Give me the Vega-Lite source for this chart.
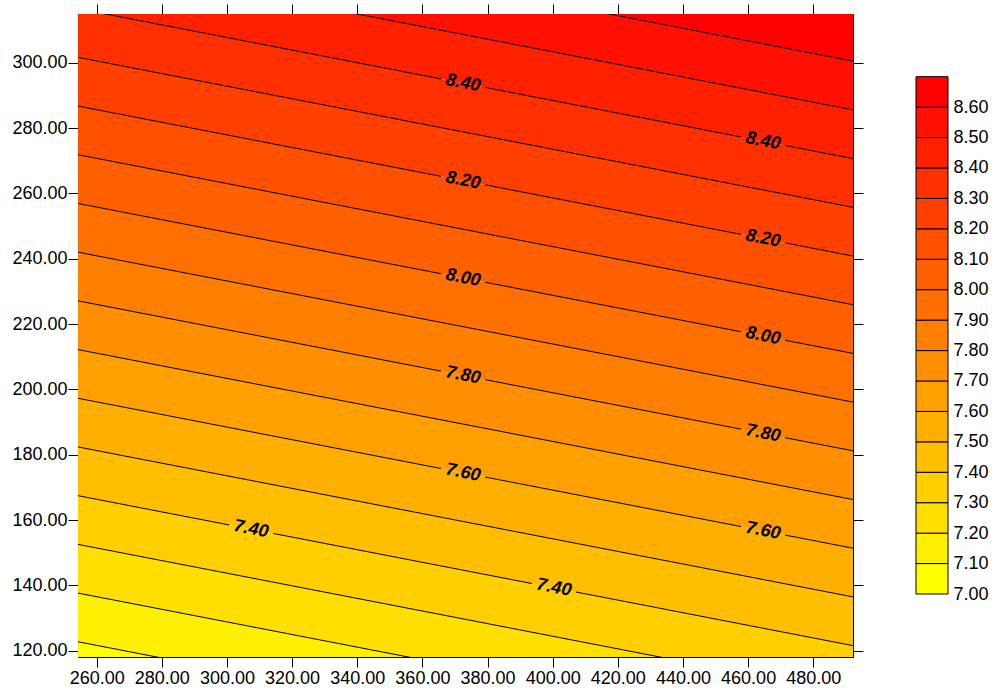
{
  "$schema": "https://vega.github.io/schema/vega-lite/v6.json",
  "padding": {"left": 11, "top": 3, "right": 5, "bottom": 5},
  "background": "#ffffff",
  "config": {
    "font": "Liberation Sans",
    "view": {"stroke": null},
    "concat": {"spacing": 51},
    "axis": {
      "labelFont": "Liberation Sans",
      "labelFontSize": 18,
      "labelColor": "#000000",
      "tickColor": "#000000",
      "tickSize": 10,
      "tickWidth": 1,
      "labelPadding": 1,
      "grid": false,
      "domain": false,
      "title": null
    }
  },
  "datasets": {
    "bands": [
      {"band": "7.0", "x": 254.27, "lo": 107.82, "hi": 122.73},
      {"band": "7.0", "x": 492.2, "lo": 61.92, "hi": 76.83},
      {"band": "7.1", "x": 254.27, "lo": 122.73, "hi": 137.63},
      {"band": "7.1", "x": 492.2, "lo": 76.83, "hi": 91.73},
      {"band": "7.2", "x": 254.27, "lo": 137.63, "hi": 152.54},
      {"band": "7.2", "x": 492.2, "lo": 91.73, "hi": 106.64},
      {"band": "7.3", "x": 254.27, "lo": 152.54, "hi": 167.45},
      {"band": "7.3", "x": 492.2, "lo": 106.64, "hi": 121.55},
      {"band": "7.4", "x": 254.27, "lo": 167.45, "hi": 182.36},
      {"band": "7.4", "x": 492.2, "lo": 121.55, "hi": 136.46},
      {"band": "7.5", "x": 254.27, "lo": 182.36, "hi": 197.27},
      {"band": "7.5", "x": 492.2, "lo": 136.46, "hi": 151.37},
      {"band": "7.6", "x": 254.27, "lo": 197.27, "hi": 212.17},
      {"band": "7.6", "x": 492.2, "lo": 151.37, "hi": 166.27},
      {"band": "7.7", "x": 254.27, "lo": 212.17, "hi": 227.08},
      {"band": "7.7", "x": 492.2, "lo": 166.27, "hi": 181.18},
      {"band": "7.8", "x": 254.27, "lo": 227.08, "hi": 241.99},
      {"band": "7.8", "x": 492.2, "lo": 181.18, "hi": 196.09},
      {"band": "7.9", "x": 254.27, "lo": 241.99, "hi": 256.9},
      {"band": "7.9", "x": 492.2, "lo": 196.09, "hi": 211.0},
      {"band": "8.0", "x": 254.27, "lo": 256.9, "hi": 271.81},
      {"band": "8.0", "x": 492.2, "lo": 211.0, "hi": 225.91},
      {"band": "8.1", "x": 254.27, "lo": 271.81, "hi": 286.71},
      {"band": "8.1", "x": 492.2, "lo": 225.91, "hi": 240.81},
      {"band": "8.2", "x": 254.27, "lo": 286.71, "hi": 301.62},
      {"band": "8.2", "x": 492.2, "lo": 240.81, "hi": 255.72},
      {"band": "8.3", "x": 254.27, "lo": 301.62, "hi": 316.53},
      {"band": "8.3", "x": 492.2, "lo": 255.72, "hi": 270.63},
      {"band": "8.4", "x": 254.27, "lo": 316.53, "hi": 331.44},
      {"band": "8.4", "x": 492.2, "lo": 270.63, "hi": 285.54},
      {"band": "8.5", "x": 254.27, "lo": 331.44, "hi": 346.35},
      {"band": "8.5", "x": 492.2, "lo": 285.54, "hi": 300.45},
      {"band": "8.6", "x": 254.27, "lo": 346.35, "hi": 361.26},
      {"band": "8.6", "x": 492.2, "lo": 300.45, "hi": 315.36}
    ],
    "lines": [
      {"seg": "8.6", "x": 254.27, "y": 346.35},
      {"seg": "8.6", "x": 492.2, "y": 300.45},
      {"seg": "8.5", "x": 254.27, "y": 331.44},
      {"seg": "8.5", "x": 492.2, "y": 285.54},
      {"seg": "8.4a", "x": 254.27, "y": 316.53},
      {"seg": "8.4a", "x": 365.75, "y": 295.02},
      {"seg": "8.4b", "x": 379.25, "y": 292.42},
      {"seg": "8.4b", "x": 457.85, "y": 277.26},
      {"seg": "8.4c", "x": 471.35, "y": 274.65},
      {"seg": "8.4c", "x": 492.2, "y": 270.63},
      {"seg": "8.3", "x": 254.27, "y": 301.62},
      {"seg": "8.3", "x": 492.2, "y": 255.72},
      {"seg": "8.2a", "x": 254.27, "y": 286.71},
      {"seg": "8.2a", "x": 365.75, "y": 265.2},
      {"seg": "8.2b", "x": 379.25, "y": 262.6},
      {"seg": "8.2b", "x": 457.85, "y": 247.44},
      {"seg": "8.2c", "x": 471.35, "y": 244.83},
      {"seg": "8.2c", "x": 492.2, "y": 240.81},
      {"seg": "8.1", "x": 254.27, "y": 271.81},
      {"seg": "8.1", "x": 492.2, "y": 225.91},
      {"seg": "8.0a", "x": 254.27, "y": 256.9},
      {"seg": "8.0a", "x": 365.75, "y": 235.39},
      {"seg": "8.0b", "x": 379.25, "y": 232.79},
      {"seg": "8.0b", "x": 457.85, "y": 217.63},
      {"seg": "8.0c", "x": 471.35, "y": 215.02},
      {"seg": "8.0c", "x": 492.2, "y": 211.0},
      {"seg": "7.9", "x": 254.27, "y": 241.99},
      {"seg": "7.9", "x": 492.2, "y": 196.09},
      {"seg": "7.8a", "x": 254.27, "y": 227.08},
      {"seg": "7.8a", "x": 365.75, "y": 205.57},
      {"seg": "7.8b", "x": 379.25, "y": 202.97},
      {"seg": "7.8b", "x": 457.85, "y": 187.81},
      {"seg": "7.8c", "x": 471.35, "y": 185.2},
      {"seg": "7.8c", "x": 492.2, "y": 181.18},
      {"seg": "7.7", "x": 254.27, "y": 212.17},
      {"seg": "7.7", "x": 492.2, "y": 166.27},
      {"seg": "7.6a", "x": 254.27, "y": 197.27},
      {"seg": "7.6a", "x": 365.75, "y": 175.76},
      {"seg": "7.6b", "x": 379.25, "y": 173.16},
      {"seg": "7.6b", "x": 457.85, "y": 158.0},
      {"seg": "7.6c", "x": 471.35, "y": 155.39},
      {"seg": "7.6c", "x": 492.2, "y": 151.37},
      {"seg": "7.5", "x": 254.27, "y": 182.36},
      {"seg": "7.5", "x": 492.2, "y": 136.46},
      {"seg": "7.4a", "x": 254.27, "y": 167.45},
      {"seg": "7.4a", "x": 300.65, "y": 158.5},
      {"seg": "7.4b", "x": 314.15, "y": 155.9},
      {"seg": "7.4b", "x": 393.65, "y": 140.56},
      {"seg": "7.4c", "x": 407.15, "y": 137.96},
      {"seg": "7.4c", "x": 492.2, "y": 121.55},
      {"seg": "7.3", "x": 254.27, "y": 152.54},
      {"seg": "7.3", "x": 492.2, "y": 106.64},
      {"seg": "7.2", "x": 254.27, "y": 137.63},
      {"seg": "7.2", "x": 492.2, "y": 91.73},
      {"seg": "7.1", "x": 254.27, "y": 122.73},
      {"seg": "7.1", "x": 492.2, "y": 76.83}
    ],
    "labels": [
      {"label": "8.40", "x": 372.5, "y": 293.72},
      {"label": "8.40", "x": 464.6, "y": 275.95},
      {"label": "8.20", "x": 372.5, "y": 263.9},
      {"label": "8.20", "x": 464.6, "y": 246.13},
      {"label": "8.00", "x": 372.5, "y": 234.09},
      {"label": "8.00", "x": 464.6, "y": 216.32},
      {"label": "7.80", "x": 372.5, "y": 204.27},
      {"label": "7.80", "x": 464.6, "y": 186.5},
      {"label": "7.60", "x": 372.5, "y": 174.46},
      {"label": "7.60", "x": 464.6, "y": 156.69},
      {"label": "7.40", "x": 307.4, "y": 157.2},
      {"label": "7.40", "x": 400.4, "y": 139.26}
    ],
    "bar": [
      {"band": "7.0", "lo": 7.0, "hi": 7.1},
      {"band": "7.1", "lo": 7.1, "hi": 7.2},
      {"band": "7.2", "lo": 7.2, "hi": 7.3},
      {"band": "7.3", "lo": 7.3, "hi": 7.4},
      {"band": "7.4", "lo": 7.4, "hi": 7.5},
      {"band": "7.5", "lo": 7.5, "hi": 7.6},
      {"band": "7.6", "lo": 7.6, "hi": 7.7},
      {"band": "7.7", "lo": 7.7, "hi": 7.8},
      {"band": "7.8", "lo": 7.8, "hi": 7.9},
      {"band": "7.9", "lo": 7.9, "hi": 8.0},
      {"band": "8.0", "lo": 8.0, "hi": 8.1},
      {"band": "8.1", "lo": 8.1, "hi": 8.2},
      {"band": "8.2", "lo": 8.2, "hi": 8.3},
      {"band": "8.3", "lo": 8.3, "hi": 8.4},
      {"band": "8.4", "lo": 8.4, "hi": 8.5},
      {"band": "8.5", "lo": 8.5, "hi": 8.6},
      {"band": "8.6", "lo": 8.6, "hi": 8.7}
    ]
  },
  "hconcat": [
    {
      "width": 775,
      "height": 643,
      "view": {"stroke": "#000000", "strokeWidth": 1},
      "layer": [
        {
          "data": {"name": "bands"},
          "mark": {"type": "area", "clip": true},
          "encoding": {
            "x": {"field": "x", "type": "quantitative",
              "scale": {"domain": [254.27, 492.2], "nice": false, "zero": false},
              "axis": {"orient": "bottom", "values": [260, 280, 300, 320, 340, 360, 380, 400, 420, 440, 460, 480], "format": ".2f", "labelPadding": 2}},
            "y": {"field": "lo", "type": "quantitative",
              "scale": {"domain": [118.07, 314.9], "nice": false, "zero": false},
              "axis": {"orient": "left", "values": [120, 140, 160, 180, 200, 220, 240, 260, 280, 300], "format": ".2f"}},
            "y2": {"field": "hi"},
            "color": {"field": "band", "type": "nominal", "legend": null,
              "scale": {
                "domain": ["7.0", "7.1", "7.2", "7.3", "7.4", "7.5", "7.6", "7.7", "7.8", "7.9", "8.0", "8.1", "8.2", "8.3", "8.4", "8.5", "8.6"],
                "range": ["#ffff00", "#ffef00", "#ffdf00", "#ffcf00", "#ffbf00", "#ffaf00", "#ff9f00", "#ff8f00", "#ff8000", "#ff7000", "#ff6000", "#ff5000", "#ff4000", "#ff3000", "#ff2000", "#ff1000", "#ff0000"]
              }}
          }
        },
        {
          "data": {"name": "lines"},
          "mark": {"type": "line", "clip": true, "color": "#000000", "strokeWidth": 1},
          "encoding": {
            "x": {"field": "x", "type": "quantitative",
              "scale": {"domain": [254.27, 492.2], "nice": false, "zero": false},
              "axis": {"orient": "top", "values": [260, 280, 300, 320, 340, 360, 380, 400, 420, 440, 460, 480], "labels": false}},
            "y": {"field": "y", "type": "quantitative",
              "scale": {"domain": [118.07, 314.9], "nice": false, "zero": false},
              "axis": {"orient": "right", "values": [120, 140, 160, 180, 200, 220, 240, 260, 280, 300], "labels": false}},
            "detail": {"field": "seg", "type": "nominal"}
          }
        },
        {
          "data": {"name": "labels"},
          "mark": {"type": "text", "angle": 11, "fontSize": 18, "fontStyle": "italic", "fontWeight": "bold", "font": "Liberation Sans", "color": "#000000", "align": "center", "baseline": "middle"},
          "encoding": {
            "x": {"field": "x", "type": "quantitative",
              "scale": {"domain": [254.27, 492.2], "nice": false, "zero": false}, "axis": null},
            "y": {"field": "y", "type": "quantitative",
              "scale": {"domain": [118.07, 314.9], "nice": false, "zero": false}, "axis": null},
            "text": {"field": "label", "type": "nominal"}
          }
        }
      ],
      "resolve": {"axis": {"x": "independent", "y": "independent"}}
    },
    {
      "width": 32,
      "height": 643,
      "data": {"name": "bar"},
      "mark": {"type": "rect", "stroke": "#000000", "strokeWidth": 1},
      "encoding": {
        "y": {"field": "lo", "type": "quantitative",
          "scale": {"domain": [6.793, 8.906], "nice": false, "zero": false},
          "axis": {"orient": "right", "values": [7.0, 7.1, 7.2, 7.3, 7.4, 7.5, 7.6, 7.7, 7.8, 7.9, 8.0, 8.1, 8.2, 8.3, 8.4, 8.5, 8.6], "format": ".2f", "ticks": false, "labelPadding": 5}},
        "y2": {"field": "hi"},
        "color": {"field": "band", "type": "nominal", "legend": null,
          "scale": {
            "domain": ["7.0", "7.1", "7.2", "7.3", "7.4", "7.5", "7.6", "7.7", "7.8", "7.9", "8.0", "8.1", "8.2", "8.3", "8.4", "8.5", "8.6"],
            "range": ["#ffff00", "#ffef00", "#ffdf00", "#ffcf00", "#ffbf00", "#ffaf00", "#ff9f00", "#ff8f00", "#ff8000", "#ff7000", "#ff6000", "#ff5000", "#ff4000", "#ff3000", "#ff2000", "#ff1000", "#ff0000"]
          }}
      }
    }
  ]
}
